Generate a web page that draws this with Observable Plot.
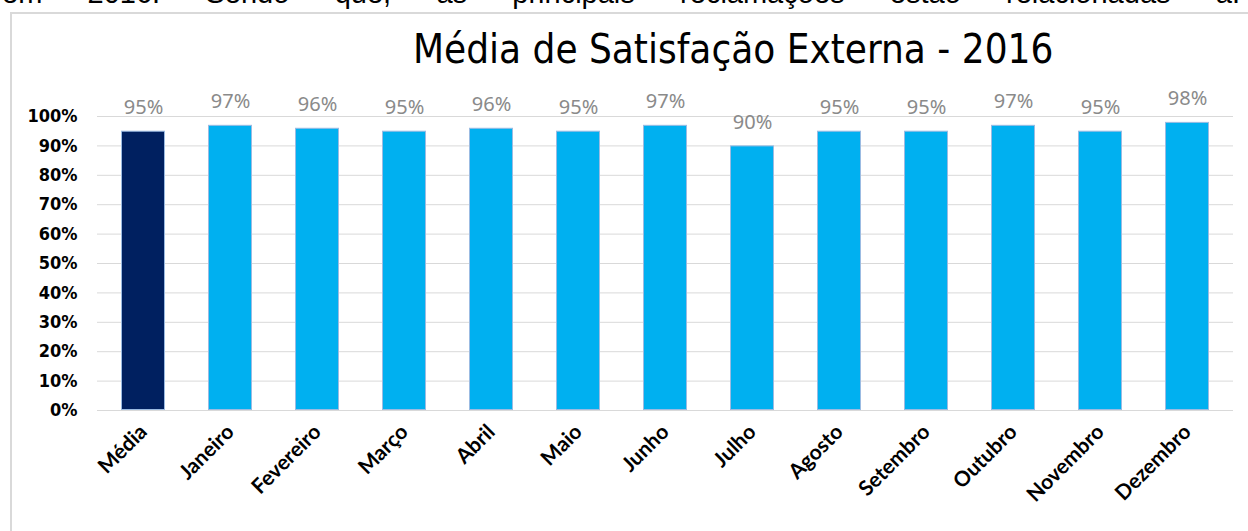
<!DOCTYPE html>
<html>
<head>
<meta charset="utf-8">
<script src="https://cdn.jsdelivr.net/npm/d3@7"></script>
<script src="https://cdn.jsdelivr.net/npm/@observablehq/plot@0.6"></script>
<style>
  html, body { margin: 0; padding: 0; background: #fff; overflow: hidden; }
  body { width: 1248px; height: 531px; position: relative; }
  #toptext { position: absolute; left: 2px; right: 8px; top: -21px; font: 29px/29px "Liberation Sans", Arial, sans-serif; color: #000; display: flex; justify-content: space-between; white-space: nowrap; }
  #frame { position: absolute; left: 10px; top: 12px; width: 1400px; height: 700px; border-left: 2px solid #d9d9d9; border-top: 2px solid #d9d9d9; }
  #title { position: absolute; left: 413px; top: 25px; white-space: nowrap; font-family: "DejaVu Sans Condensed", "DejaVu Sans", sans-serif; font-stretch: condensed; font-size: 40px; line-height: 48px; color: #000; }
  #chart { position: absolute; left: 0; top: 0; }
</style>
</head>
<body>
<div id="toptext"></div>
<div id="frame"></div>
<div id="chart"></div>
<div id="title"></div>
<script>
const topWords = ["em", "2016.", "Sendo", "que,", "as", "principais", "reclamações", "estão", "relacionadas", "a."];
const titleText = "Média de Satisfação Externa - 2016";
const categories = ["Média", "Janeiro", "Fevereiro", "Março", "Abril", "Maio", "Junho", "Julho", "Agosto", "Setembro", "Outubro", "Novembro", "Dezembro"];
const values = [0.95, 0.97, 0.96, 0.95, 0.96, 0.95, 0.97, 0.90, 0.95, 0.95, 0.97, 0.95, 0.98];
const kinds = ["media", "mes", "mes", "mes", "mes", "mes", "mes", "mes", "mes", "mes", "mes", "mes", "mes"];
const yTicks = [0, 0.1, 0.2, 0.3, 0.4, 0.5, 0.6, 0.7, 0.8, 0.9, 1.0];
const yTickLabels = ["0%", "10%", "20%", "30%", "40%", "50%", "60%", "70%", "80%", "90%", "100%"];

document.getElementById("toptext").innerHTML = topWords.map(w => `<span>${w}</span>`).join("");
document.getElementById("title").textContent = titleText;

const data = categories.map((c, i) => ({cat: c, val: values[i], kind: kinds[i]}));

const chart = Plot.plot({
  width: 1248,
  height: 531,
  marginLeft: 97,
  marginRight: 15,
  marginTop: 116,
  marginBottom: 121,
  style: {background: "transparent", overflow: "visible"},
  x: {domain: categories, paddingInner: 0.5, paddingOuter: 0.25, label: null},
  y: {domain: [0, 1], label: null},
  color: {domain: ["media", "mes"], range: ["#002060", "#00B0F0"]},
  marks: [
    Plot.ruleY(yTicks, {stroke: "#d9d9d9", strokeWidth: 1}),
    Plot.barY(data, {x: "cat", y: "val", fill: "kind", stroke: "#9bbbe2", strokeWidth: 1, inset: 0.5}),
    Plot.text(data, {x: "cat", y: "val", text: d => Math.round(d.val * 100) + "%", dy: -17, lineAnchor: "bottom", fill: "#8a8a8a", fontSize: 20, fontFamily: "Noto Sans, sans-serif"}),
    Plot.axisY(yTicks, {tickSize: 0, tickPadding: 20, tickFormat: (d, i) => yTickLabels[i], fontSize: 18, fontWeight: "bold", fill: "#000", fontFamily: "DejaVu Sans Condensed, DejaVu Sans, sans-serif", fontStretch: "condensed", label: null}),
    Plot.axisX({tickSize: 0, tickPadding: 18, tickRotate: -45, fontSize: 21, fontWeight: "bold", fill: "#000", fontFamily: "Lato, sans-serif", label: null})
  ]
});
document.getElementById("chart").appendChild(chart);
</script>
</body>
</html>
